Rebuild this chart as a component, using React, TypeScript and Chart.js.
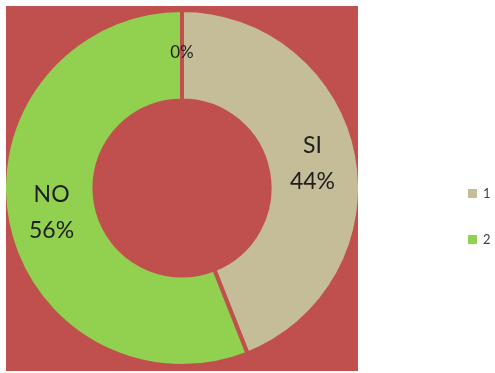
import React, { useEffect, useRef } from "react";
import { Chart, registerables } from "chart.js";

Chart.register(...registerables);

// Survey answers: category ids, the answer written on each slice, and its share (%)
const categories = ["1", "2", "3"];
const answerNames = ["SI", "NO", ""];
const shares = [44, 56, 0];
const sliceColors = ["#C4BD97", "#92D050", "#C0504D"];

const PLOT_BG = "#C0504D";
const PLOT_BOX = { x: 6, y: 6, w: 352, h: 365 };

// Red plot area behind the ring; the ring is clipped to it
const plotArea = {
  id: "plotArea",
  beforeDraw(chart: any) {
    const { ctx } = chart;
    ctx.save();
    ctx.fillStyle = PLOT_BG;
    ctx.fillRect(PLOT_BOX.x, PLOT_BOX.y, PLOT_BOX.w, PLOT_BOX.h);
    ctx.restore();
  },
  beforeDatasetsDraw(chart: any) {
    const { ctx } = chart;
    ctx.save();
    ctx.beginPath();
    ctx.rect(PLOT_BOX.x, PLOT_BOX.y, PLOT_BOX.w, PLOT_BOX.h);
    ctx.clip();
  },
  afterDatasetsDraw(chart: any) {
    chart.ctx.restore();
  },
};

// Category name and percentage drawn at the middle of each slice
const sliceLabels = {
  id: "sliceLabels",
  afterDatasetsDraw(chart: any) {
    const { ctx } = chart;
    const meta = chart.getDatasetMeta(0);
    ctx.save();
    ctx.textAlign = "center";
    ctx.textBaseline = "middle";
    ctx.fillStyle = "#1e1e1e";
    meta.data.forEach((arc: any, i: number) => {
      const pos = arc.tooltipPosition();
      const pct = shares[i] + "%";
      const name = answerNames[i];
      if (name) {
        ctx.font = "23px Lato";
        ctx.fillText(name, pos.x, pos.y - 18);
        ctx.fillText(pct, pos.x, pos.y + 18);
      } else {
        ctx.font = "17px Lato";
        ctx.fillText(pct, pos.x, pos.y - 3);
      }
    });
    ctx.restore();
  },
};

// Legend on the right for the non-empty categories
const sideLegend = {
  id: "sideLegend",
  afterDraw(chart: any) {
    const { ctx } = chart;
    const colors = chart.data.datasets[0].backgroundColor;
    ctx.save();
    ctx.font = "13px Lato";
    ctx.textBaseline = "middle";
    ctx.textAlign = "left";
    let row = 0;
    chart.data.labels.forEach((label: string, i: number) => {
      if (!shares[i]) return;
      const cy = 193.5 + row * 46;
      ctx.fillStyle = colors[i];
      ctx.fillRect(468, cy - 4.5, 9, 9);
      ctx.fillStyle = "#404040";
      ctx.fillText(label, 483, cy);
      row++;
    });
    ctx.restore();
  },
};

export default function App() {
  const canvasRef = useRef<HTMLCanvasElement | null>(null);

  useEffect(() => {
    if (!canvasRef.current) return;
    const chart = new Chart(canvasRef.current, {
      type: "doughnut",
      data: {
        labels: categories,
        datasets: [
          {
            data: shares,
            backgroundColor: sliceColors,
            borderColor: PLOT_BG,
            borderWidth: 4,
            hoverOffset: 0,
          },
        ],
      },
      options: {
        responsive: false,
        animation: false,
        devicePixelRatio: 1,
        cutout: "49.2%",
        layout: {
          padding: { left: 2, top: 8, right: 133, bottom: 5 },
        },
        plugins: {
          legend: { display: false },
          tooltip: { enabled: false },
        },
      },
      plugins: [plotArea, sliceLabels, sideLegend],
    });
    return () => chart.destroy();
  }, []);

  return (
    <div
      style={{
        position: "absolute",
        left: 0,
        top: 0,
        width: 495,
        height: 373,
        overflow: "hidden",
        background: "#ffffff",
      }}
    >
      <canvas ref={canvasRef} width={495} height={373} />
    </div>
  );
}
